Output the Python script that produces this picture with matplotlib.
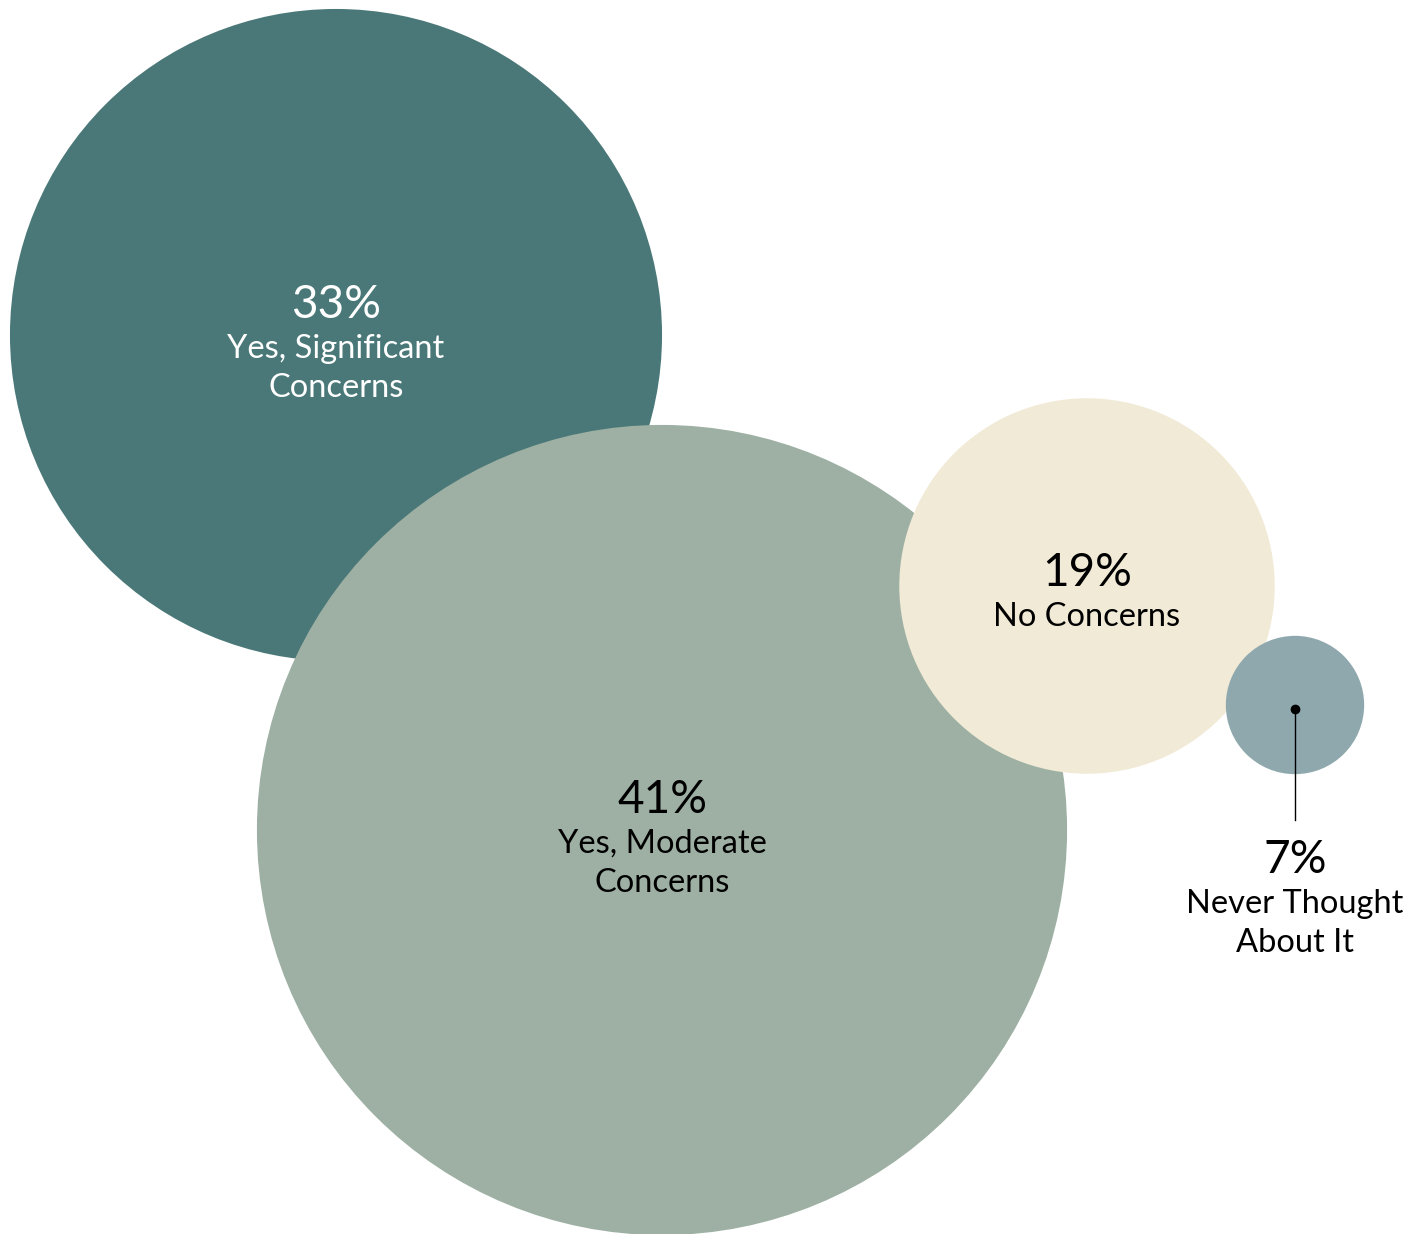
import matplotlib.pyplot as plt
from matplotlib.patches import Circle

plt.rcParams['font.family'] = ['Lato', 'DejaVu Sans']

# survey shares (%) and their labels
values = [33, 41, 19, 7]
pcts = ['33%', '41%', '19%', '7%']
labels = ['Yes, Significant\nConcerns', 'Yes, Moderate\nConcerns',
          'No Concerns', 'Never Thought\nAbout It']
colors = ['#4a7878', '#9db0a3', '#f1ead6', '#8fa8ae']
text_colors = ['white', 'black', 'black', 'black']

# bubble centres in pixel space, radius scales linearly with the share
centres = [(336, 335), (662, 830), (1087, 586), (1295, 705)]
scale = 9.88

fig = plt.figure(figsize=(14.24, 12.34), dpi=100)
ax = fig.add_axes([0, 0, 1, 1])
ax.set_xlim(0, 1424)
ax.set_ylim(1234, 0)
ax.set_aspect('equal')
ax.axis('off')

for i, (v, (cx, cy), c) in enumerate(zip(values, centres, colors)):
    ax.add_patch(Circle((cx, cy), v * scale, color=c, lw=0, zorder=i + 1))


def block(x, y, pct, label, color):
    # percentage on top, then the label lines stacked underneath
    ax.text(x, y, pct, ha='center', va='center', fontsize=33,
            color=color, zorder=10)
    for k, line in enumerate(label.split('\n')):
        ax.text(x, y + 44 + 39 * k, line, ha='center', va='center',
                fontsize=23.5, color=color, zorder=10)


# labels inside the three big bubbles
for i in range(3):
    cx, cy = centres[i]
    off = -30 if '\n' in labels[i] else -13
    block(cx, cy + off, pcts[i], labels[i], text_colors[i])

# small bubble gets a leader line and an outside label
cx, cy = centres[3]
ax.plot([cx, cx], [cy + 4, 820], color='black', lw=1, zorder=10)
ax.plot(cx, cy + 4, 'o', color='black', ms=6, zorder=11)
block(cx, 860, pcts[3], labels[3], text_colors[3])

fig.savefig('out.png', dpi=100, facecolor='white')
